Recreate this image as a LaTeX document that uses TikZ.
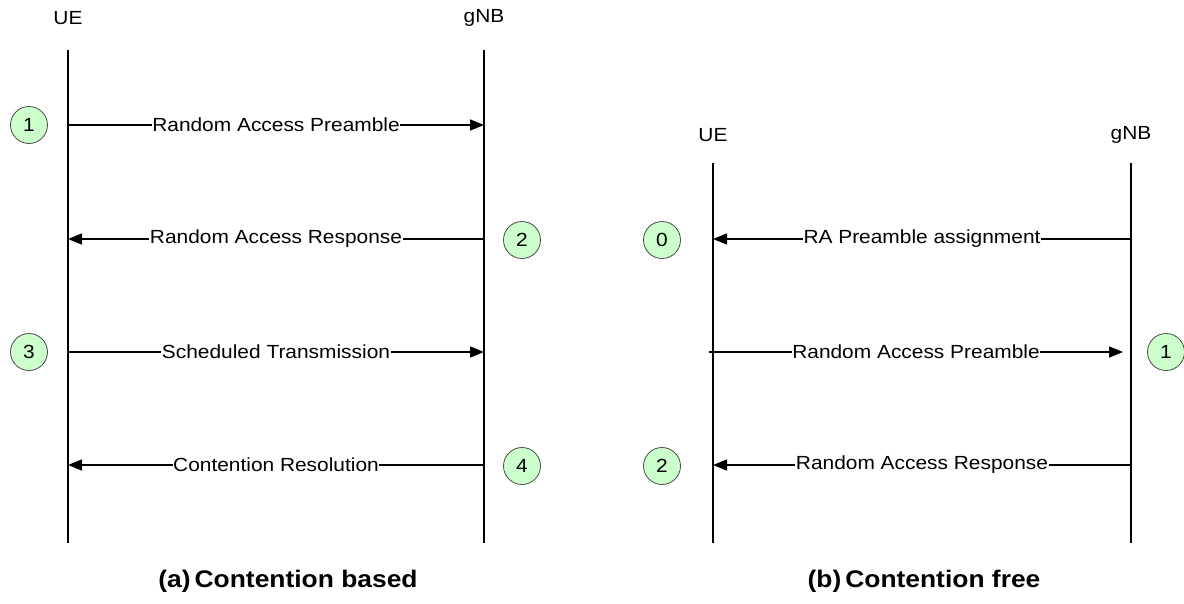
\documentclass[tikz,border=0pt]{standalone}
\usepackage{fontspec}
\setmainfont[FakeStretch=1.1]{Liberation Sans}
\usetikzlibrary{arrows.meta}
\definecolor{numgreen}{HTML}{CCFFCC}

\begin{document}
\begin{tikzpicture}[x=1pt,y=-1pt,
    font=\fontsize{19}{22}\selectfont,
    life/.style={line width=1.5pt},
    msg/.style={line width=1.5pt,-{Triangle[length=14pt,width=11pt]}},
    lbl/.style={fill=white,inner sep=0.5pt},
    num/.style={draw=black!70,line width=0.8pt,fill=numgreen,shape=circle,minimum size=37pt,inner sep=0pt},
    captext/.style={font=\fontsize{24}{28}\selectfont\bfseries}]
      \useasboundingbox (0,0) rectangle (1184,603) ;
      % (a) contention based
      \node (ueA) at (68,18) {UE} ;
      \node (gnbA) at (484,18) {gNB} ;
      \coordinate (ueAt) at (68,50) ; \coordinate (ueAb) at (68,543) ;
      \coordinate (gnbAt) at (484,50) ; \coordinate (gnbAb) at (484,543) ;
      \draw[life] (ueAt)--(ueAb) ;
      \draw[life] (gnbAt)--(gnbAb) ;
      \coordinate (a1u) at (68,125) ; \coordinate (a1g) at (484,125) ;
      \coordinate (a2u) at (68,239) ; \coordinate (a2g) at (484,239) ;
      \coordinate (a3u) at (68,352) ; \coordinate (a3g) at (484,352) ;
      \coordinate (a4u) at (68,465) ; \coordinate (a4g) at (484,465) ;
      \draw[msg] (a1u)--(a1g) node[midway,lbl]{Random Access Preamble} ;
      \draw[msg] (a2g)--(a2u) node[midway,lbl]{Random Access Response} ;
      \draw[msg] (a3u)--(a3g) node[midway,lbl]{Scheduled Transmission} ;
      \draw[msg] (a4g)--(a4u) node[midway,lbl]{Contention Resolution} ;
      \node[num] (nA1) at (29,125) {1} ;
      \node[num] (nA2) at (522,240) {2} ;
      \node[num] (nA3) at (29,352) {3} ;
      \node[num] (nA4) at (522,466) {4} ;
      \node[captext] (capA) at (288,581) {(a)\,Contention based} ;
      % (b) contention free
      \node (ueB) at (713,135) {UE} ;
      \node (gnbB) at (1131,135) {gNB} ;
      \coordinate (ueBt) at (713,163) ; \coordinate (ueBb) at (713,543) ;
      \coordinate (gnbBt) at (1131,163) ; \coordinate (gnbBb) at (1131,543) ;
      \draw[life] (ueBt)--(ueBb) ;
      \draw[life] (gnbBt)--(gnbBb) ;
      \coordinate (b0u) at (713,239) ; \coordinate (b0g) at (1131,239) ;
      \coordinate (b1u) at (709,352) ; \coordinate (b1g) at (1123,352) ;
      \coordinate (b2u) at (713,465) ; \coordinate (b2g) at (1131,465) ;
      \draw[msg] (b0g)--(b0u) node[midway,lbl]{RA Preamble assignment} ;
      \draw[msg] (b1u)--(b1g) node[midway,lbl]{Random Access Preamble} ;
      \draw[msg] (b2g)--(b2u) node[midway,lbl]{Random Access Response} ;
      \node[num] (nB0) at (662,240) {0} ;
      \node[num] (nB1) at (1166,352) {1} ;
      \node[num] (nB2) at (662,466) {2} ;
      \node[captext] (capB) at (924,581) {(b)\,Contention free} ;
    \end{tikzpicture}
\end{document}
